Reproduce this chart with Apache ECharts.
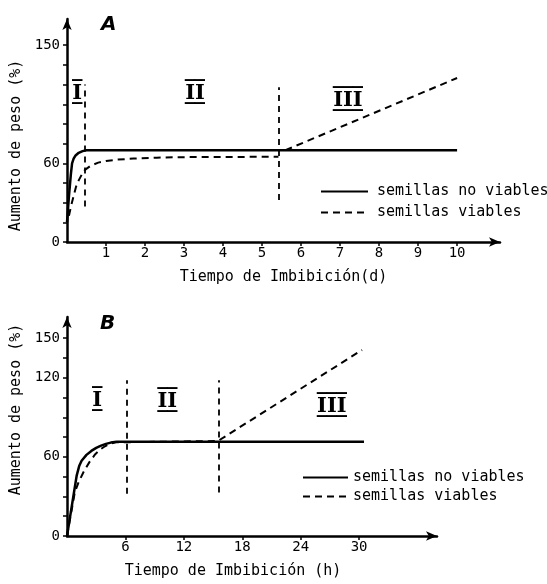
<!DOCTYPE html>
<html>
<head>
<meta charset="utf-8">
<script src="https://cdn.jsdelivr.net/npm/echarts@6/dist/echarts.min.js"></script>
<style>
  html, body { margin: 0; padding: 0; background: #fff; }
  #chart { width: 547px; height: 584px; }
</style>
</head>
<body>
<div id="chart"></div>
<script>
// ---- panel A : tiempo en dias ----
var noViablesA = [[0, 15], [0.05, 35], [0.1, 52], [0.13, 60], [0.17, 63.5], [0.22, 66], [0.3, 68], [0.4, 69.3], [0.5, 70], [10, 70]];
var viablesA = [[0.05, 20], [0.1, 27], [0.16, 34], [0.23, 42], [0.3, 47], [0.38, 51.5], [0.46, 55], [0.6, 58], [0.8, 60.5],
                [1.0, 61.8], [1.3, 62.8], [1.7, 63.6], [2.3, 64.3], [3, 64.7], [5.42, 65],
                [5.5, '-'], [5.6, 70], [10, 125]];
var phaseLinesA = [[0.46, 27, 120], [5.44, 32, 118]];   // x, y desde, y hasta
var phasesA = [['I', 0.26, 113], ['II', 3.28, 113], ['III', 7.2, 108]];
var xTicksA = [1, 2, 3, 4, 5, 6, 7, 8, 9, 10];
var yLabelsA = [0, 60, 150];

// ---- panel B : tiempo en horas ----
var noViablesB = [[0, 0], [1.0, 46], [1.25, 53], [1.5, 57], [2, 61.5], [2.5, 64.5], [3, 66.8], [3.5, 68.5], [4, 69.8],
                  [4.5, 70.8], [5.1, 71.5], [30.5, 71.5]];
var viablesB = [[0, 0], [0.8, 33], [1.2, 41], [1.7, 48.5], [2.3, 56], [2.9, 62], [3.4, 65.5], [3.9, 68], [4.4, 69.8],
                [5, 71], [15.5, 72], [30.3, 141]];
var phaseLinesB = [[6.1, 32, 118], [15.6, 33, 118]];
var phasesB = [['I', 3.1, 103], ['II', 10.3, 102], ['III', 27.2, 98]];
var xTicksB = [6, 12, 18, 24, 30];
var yLabelsB = [0, 60, 120, 150];

var yTicks = [0, 15, 30, 45, 60, 75, 90, 105, 120, 135, 150];
var names = ['semillas no viables', 'semillas viables'];

var FONT = 'DejaVu Sans Mono';
var myChart = echarts.init(document.getElementById('chart'));

// numeral romano con barra arriba y abajo (combinando U+0305 y U+0332)
function roman(s) {
  return s.split('').map(function (c) { return c + '\u0305\u0332'; }).join('');
}

function xAxisFor(gi, max, ticks, name, namePad) {
  return {
    type: 'value', gridIndex: gi, min: 0, max: max,
    splitLine: { show: false },
    axisLine: { lineStyle: { color: '#000', width: 2.5 }, symbol: ['none', 'arrow'], symbolSize: [7, 11] },
    axisTick: { customValues: ticks, length: 4, lineStyle: { color: '#000', width: 1.5 } },
    axisLabel: { customValues: ticks, color: '#000', fontFamily: FONT, fontSize: 14, margin: 4 },
    name: name, nameLocation: 'middle', nameGap: 28,
    nameTextStyle: { color: '#000', fontFamily: FONT, fontSize: 15, padding: namePad }
  };
}

function yAxisFor(gi, max, labels, namePad) {
  return {
    type: 'value', gridIndex: gi, min: 0, max: max,
    splitLine: { show: false },
    axisLine: { lineStyle: { color: '#000', width: 2.5 }, symbol: ['none', 'arrow'], symbolSize: [7, 11] },
    axisTick: { customValues: yTicks, length: 4, lineStyle: { color: '#000', width: 1.5 } },
    axisLabel: { customValues: labels, color: '#000', fontFamily: FONT, fontSize: 14, margin: 7 },
    name: 'Aumento de peso (%)', nameLocation: 'middle', nameGap: 40, nameRotate: 90,
    nameTextStyle: { color: '#000', fontFamily: FONT, fontSize: 15, padding: namePad }
  };
}

function phaseMarks(lines, phases) {
  return {
    markLine: {
      silent: true, symbol: 'none',
      lineStyle: { color: '#000', type: [6, 5], width: 1.8 },
      label: { show: false },
      data: lines.map(function (l) { return [{ coord: [l[0], l[1]] }, { coord: [l[0], l[2]] }]; })
    },
    markPoint: {
      silent: true, symbol: 'circle', symbolSize: 0,
      label: { show: true, position: 'inside', formatter: '{b}', color: '#000',
               fontFamily: 'DejaVu Serif', fontWeight: 'bold', fontSize: 21 },
      data: phases.map(function (p) { return { name: roman(p[0]), coord: [p[1], p[2]] }; })
    }
  };
}

function lineSeries(name, gi, data, dashed, extra) {
  var s = {
    name: name, type: 'line', xAxisIndex: gi, yAxisIndex: gi,
    data: data, symbol: 'none', connectNulls: false,
    lineStyle: { color: '#000', width: dashed ? 2 : 2.5, type: dashed ? [7, 5] : 'solid' },
    itemStyle: { color: '#000' }
  };
  if (extra) { s.markLine = extra.markLine; s.markPoint = extra.markPoint; }
  return s;
}

var legendBase = {
  orient: 'vertical', data: names, selectedMode: false, padding: 0,
  itemHeight: 14, itemStyle: { opacity: 0 }
};

var option = {
  backgroundColor: '#fff',
  animation: false,
  title: [
    { text: 'A', left: 96, top: 10, textStyle: { fontFamily: 'DejaVu Sans', fontStyle: 'italic', fontWeight: 'bold', fontSize: 20, color: '#000' } },
    { text: 'B', left: 95, top: 309, textStyle: { fontFamily: 'DejaVu Sans', fontStyle: 'italic', fontWeight: 'bold', fontSize: 20, color: '#000' } }
  ],
  legend: [
    Object.assign({}, legendBase, { left: 320, top: 184, itemWidth: 47, itemGap: 6,
      textStyle: { color: '#000', fontFamily: FONT, fontSize: 15, padding: [0, 0, 0, 4] } }),
    Object.assign({}, legendBase, { left: 302, top: 470, itemWidth: 45, itemGap: 4,
      textStyle: { color: '#000', fontFamily: FONT, fontSize: 15 } })
  ],
  grid: [
    { left: 67, right: 47, top: 19, bottom: 342 },
    { left: 67, right: 110, top: 317, bottom: 48 }
  ],
  xAxis: [
    xAxisFor(0, 11.1, xTicksA, 'Tiempo de Imbibición(d)', [0, 0, 0, 0]),
    xAxisFor(1, 38, xTicksB, 'Tiempo de Imbibición (h)', [0, 38, 0, 0])
  ],
  yAxis: [
    yAxisFor(0, 170, yLabelsA, [0, 30, 0, 0]),
    yAxisFor(1, 166, yLabelsB, [0, 0, 0, 34])
  ],
  series: [
    lineSeries(names[0], 0, noViablesA, false),
    lineSeries(names[1], 0, viablesA, true, phaseMarks(phaseLinesA, phasesA)),
    lineSeries(names[0], 1, noViablesB, false),
    lineSeries(names[1], 1, viablesB, true, phaseMarks(phaseLinesB, phasesB))
  ]
};

myChart.setOption(option);
</script>
</body>
</html>
